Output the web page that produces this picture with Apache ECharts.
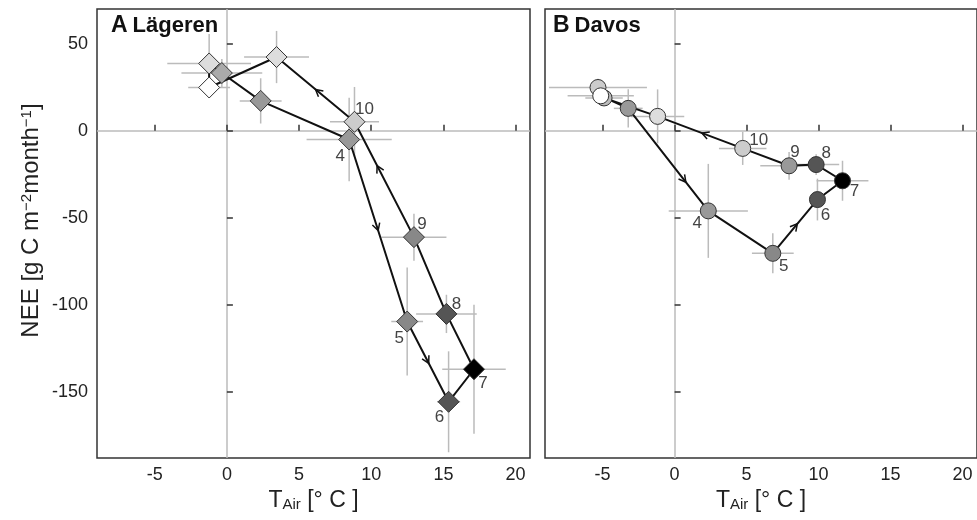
<!DOCTYPE html>
<html><head><meta charset="utf-8">
<script src="https://cdn.jsdelivr.net/npm/echarts@6/dist/echarts.min.js"></script>
<style>html,body{margin:0;padding:0;background:#fff}#c{width:977px;height:520px}</style>
</head><body><div id="c"></div>
<script>
// ---------- data ----------
// Panel A: Lägeren (path order: months 4 ... 12, 1, 2, 3)
const monthsA  = [4, 5, 6, 7, 8, 9, 10, 11, 12, 1, 2, 3];
const tempA    = [8.47, 12.49, 15.36, 17.12, 15.21, 12.96, 8.84, 3.44, -1.23, -1.23, -0.35, 2.34];
const neeA     = [-5.0, -109.6, -155.7, -137.0, -105.2, -61.1, 5.2, 42.4, 24.9, 38.7, 33.2, 17.2];
const tempErrA = [2.95, 1.1, 0.8, 2.2, 2.1, 2.25, 1.7, 2.25, 1.45, 2.9, 2.8, 1.45];
const neeErrA  = [24, 31, 29, 37, 11, 13.5, 20, 15, 6, 17, 8, 13];

// Panel B: Davos
const monthsB  = [4, 5, 6, 7, 8, 9, 10, 11, 12, 1, 2, 3];
const tempB    = [2.34, 6.82, 9.92, 11.66, 9.83, 7.95, 4.73, -1.18, -4.9, -5.32, -5.13, -3.22];
const neeB     = [-46.0, -70.4, -39.5, -28.7, -19.4, -20.1, -10.1, 8.3, 18.9, 24.9, 20.1, 12.9];
const tempErrB = [2.75, 1.45, 0.5, 1.8, 1.6, 2.0, 1.65, 1.85, 1.3, 3.4, 2.3, 1.0];
const neeErrB  = [27, 11.5, 12, 11.5, 6, 8, 9.5, 15.5, 4, 5, 5, 11];

// arrows on path segments: [from month, to month, fraction along segment]
const arrowsA = [[10, 11, 0.5], [9, 10, 0.62], [4, 5, 0.5], [5, 6, 0.52]];
const arrowsB = [[3, 4, 0.72], [10, 11, 0.48], [5, 6, 0.55]];

const xTicks = [-5, 0, 5, 10, 15, 20];
const yTicks = [50, 0, -50, -100, -150];

// ---------- styles ----------
const fillA = ['#999', '#888', '#555', '#000', '#555', '#888', '#ccc', '#ddd', '#fff', '#ddd', '#aaa', '#999'];
const fillB = ['#999', '#888', '#555', '#000', '#555', '#999', '#ccc', '#ddd', '#bbb', '#ccc', '#fff', '#999'];
const labelOffA = {4: [-9, 17], 5: [-8, 17], 6: [-9, 16], 7: [9, 14], 8: [10, -10], 9: [8, -13], 10: [10, -12]};
const labelOffB = {4: [-11, 12], 5: [11, 13], 6: [8, 16], 7: [12, 11], 8: [10, -11], 9: [6, -13], 10: [16, -8]};

const FONT = 'Liberation Sans, Arial, sans-serif';
const GREY = '#bbb';

function panel(idx, months, temp, nee, tErr, nErr, fills, labelOff, arrows, symbol, size) {
  const pts = months.map((m, i) => [temp[i], nee[i]]);
  const path = pts.concat([pts[0]]);
  const errData = months.map((m, i) => [temp[i], nee[i], tErr[i], nErr[i]]);
  const arrowData = arrows.map(a => {
    const i = months.indexOf(a[0]), j = months.indexOf(a[1]);
    return [temp[i], nee[i], temp[j], nee[j], a[2]];
  });
  const scat = months.map((m, i) => ({
    value: [temp[i], nee[i]],
    itemStyle: {color: fills[i]},
    label: labelOff[m] ? {show: true, formatter: String(m), position: 'inside', offset: labelOff[m]} : {show: false}
  }));
  return [
    {
      type: 'custom', xAxisIndex: idx, yAxisIndex: idx, z: 1, silent: true,
      data: errData,
      renderItem: (params, api) => {
        const x = api.value(0), y = api.value(1), ex = api.value(2), ey = api.value(3);
        const a = api.coord([x - ex, y]), b = api.coord([x + ex, y]);
        const c = api.coord([x, y - ey]), d = api.coord([x, y + ey]);
        const st = {stroke: GREY, lineWidth: 1.5};
        return {type: 'group', children: [
          {type: 'line', shape: {x1: a[0], y1: a[1], x2: b[0], y2: b[1]}, style: st},
          {type: 'line', shape: {x1: c[0], y1: c[1], x2: d[0], y2: d[1]}, style: st}
        ]};
      }
    },
    {
      type: 'line', xAxisIndex: idx, yAxisIndex: idx, z: 2, silent: true,
      data: path, symbol: 'none', lineStyle: {color: '#111', width: 2}, animation: false,
      markLine: {
        silent: true, symbol: ['none', 'none'], label: {show: false}, z: 0,
        lineStyle: {color: GREY, type: 'solid', width: 1.5},
        data: [{xAxis: 0}, {yAxis: 0}]
      }
    },
    {
      type: 'custom', xAxisIndex: idx, yAxisIndex: idx, z: 3, silent: true,
      data: arrowData,
      renderItem: (params, api) => {
        const p1 = api.coord([api.value(0), api.value(1)]);
        const p2 = api.coord([api.value(2), api.value(3)]);
        const f = api.value(4);
        const tx = p1[0] + f * (p2[0] - p1[0]), ty = p1[1] + f * (p2[1] - p1[1]);
        const len = Math.hypot(p2[0] - p1[0], p2[1] - p1[1]);
        const dx = (p2[0] - p1[0]) / len, dy = (p2[1] - p1[1]) / len;
        const L = 8, th = 0.5;
        const w = (s) => [tx - L * (dx * Math.cos(th) - s * dy * Math.sin(th)),
                          ty - L * (dy * Math.cos(th) + s * dx * Math.sin(th))];
        return {type: 'polyline', shape: {points: [w(1), [tx, ty], w(-1)]},
                style: {stroke: '#111', lineWidth: 1.5, fill: null}};
      }
    },
    {
      type: 'scatter', xAxisIndex: idx, yAxisIndex: idx, z: 4, silent: true,
      symbol: symbol, symbolSize: size, data: scat,
      itemStyle: {borderColor: '#333', borderWidth: 1, opacity: 1},
      label: {color: '#444', fontSize: 17, fontFamily: FONT}
    }
  ];
}

function xAxis(idx) {
  return {
    type: 'value', gridIndex: idx, min: -9, max: 21,
    name: '{t|T}{s|Air}{t| [° C ]}', nameLocation: 'middle', nameGap: 24,
    nameTextStyle: {rich: {
      t: {fontSize: 23, fontFamily: FONT, color: '#222'},
      s: {fontSize: 15, fontFamily: FONT, color: '#222', verticalAlign: 'bottom'}
    }},
    axisLine: {show: false}, splitLine: {show: false},
    axisTick: {inside: true, length: 6, customValues: xTicks, lineStyle: {color: '#333', width: 1.5}},
    axisLabel: {customValues: xTicks, margin: 8, fontSize: 18, fontFamily: FONT, color: '#222'}
  };
}
function yAxis(idx, showLabels) {
  const ax = {
    type: 'value', gridIndex: idx, min: -188, max: 70,
    axisLine: {show: false}, splitLine: {show: false},
    axisTick: {inside: true, length: 6, customValues: yTicks, lineStyle: {color: '#333', width: 1.5}},
    axisLabel: {show: showLabels, customValues: yTicks, margin: 9, fontSize: 18, fontFamily: FONT, color: '#222'}
  };
  if (showLabels) {
    ax.name = '{a|NEE [g C m}{s|−2}{a|month}{s|−1}{a|]}';
    ax.nameLocation = 'middle';
    ax.nameGap = 54;
    ax.nameTextStyle = {padding: [0, 0, 0, 26], rich: {
      a: {fontSize: 24, fontFamily: FONT, color: '#222'},
      s: {fontSize: 15, fontFamily: FONT, color: '#222', verticalAlign: 'top'}
    }};
  }
  return ax;
}

const titleRich = {
  b: {fontSize: 23, fontWeight: 'bold', fontFamily: FONT, color: '#111'},
  n: {fontSize: 22, fontFamily: FONT, color: '#111'}
};

const option = {
  animation: false,
  backgroundColor: '#fff',
  title: [
    {text: '{b|A} {n|Lägeren}', left: 111, top: 14, textStyle: {rich: titleRich}, padding: 0},
    {text: '{b|B} {n|Davos}', left: 553, top: 14, textStyle: {rich: titleRich}, padding: 0}
  ],
  grid: [
    {left: 97, top: 9, width: 433, height: 449, show: true, borderColor: '#333', borderWidth: 1.5, backgroundColor: 'transparent'},
    {left: 545, top: 9, width: 433, height: 449, show: true, borderColor: '#333', borderWidth: 1.5, backgroundColor: 'transparent'}
  ],
  xAxis: [xAxis(0), xAxis(1)],
  yAxis: [yAxis(0, true), yAxis(1, false)],
  series: [].concat(
    panel(0, monthsA, tempA, neeA, tempErrA, neeErrA, fillA, labelOffA, arrowsA, 'diamond', 21),
    panel(1, monthsB, tempB, neeB, tempErrB, neeErrB, fillB, labelOffB, arrowsB, 'circle', 16)
  )
};

const chart = echarts.init(document.getElementById('c'));
chart.setOption(option);
</script>
</body></html>
